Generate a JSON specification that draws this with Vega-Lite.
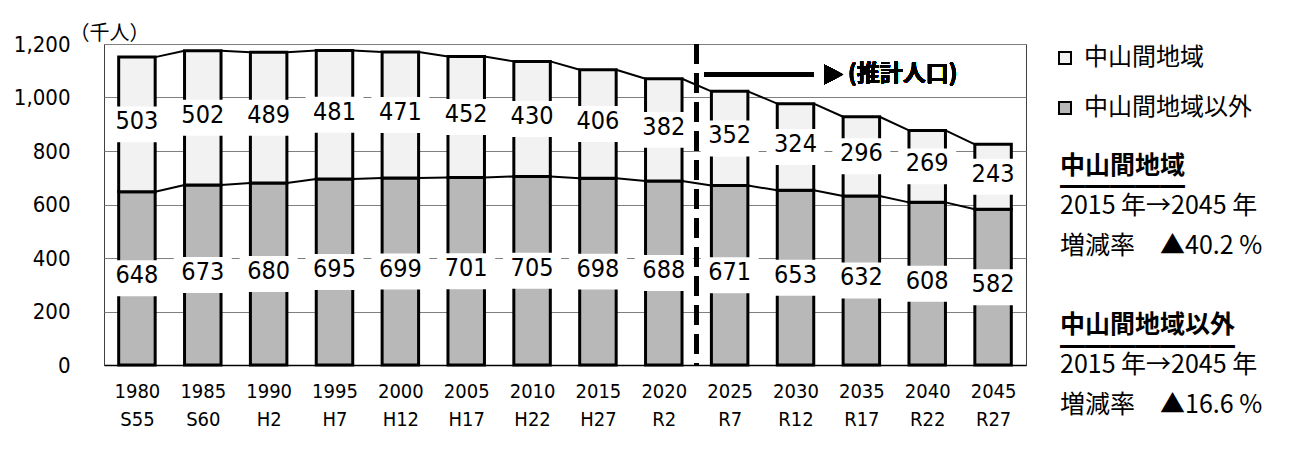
{
  "$schema": "https://vega.github.io/schema/vega-lite/v6.json",
  "autosize": {"type": "pad"},
  "padding": {"left": 12, "top": 22, "right": 5, "bottom": 5},
  "background": "white",
  "spacing": 32,
  "config": {
    "view": {"stroke": null},
    "font": "DejaVu Sans Condensed",
    "text": {"font": "DejaVu Sans Condensed"}
  },
  "datasets": {
    "pop": [
      {"period": "1980 S55", "area": "中山間地域以外", "value": 648},
      {"period": "1980 S55", "area": "中山間地域", "value": 503},
      {"period": "1985 S60", "area": "中山間地域以外", "value": 673},
      {"period": "1985 S60", "area": "中山間地域", "value": 502},
      {"period": "1990 H2", "area": "中山間地域以外", "value": 680},
      {"period": "1990 H2", "area": "中山間地域", "value": 489},
      {"period": "1995 H7", "area": "中山間地域以外", "value": 695},
      {"period": "1995 H7", "area": "中山間地域", "value": 481},
      {"period": "2000 H12", "area": "中山間地域以外", "value": 699},
      {"period": "2000 H12", "area": "中山間地域", "value": 471},
      {"period": "2005 H17", "area": "中山間地域以外", "value": 701},
      {"period": "2005 H17", "area": "中山間地域", "value": 452},
      {"period": "2010 H22", "area": "中山間地域以外", "value": 705},
      {"period": "2010 H22", "area": "中山間地域", "value": 430},
      {"period": "2015 H27", "area": "中山間地域以外", "value": 698},
      {"period": "2015 H27", "area": "中山間地域", "value": 406},
      {"period": "2020 R2", "area": "中山間地域以外", "value": 688},
      {"period": "2020 R2", "area": "中山間地域", "value": 382},
      {"period": "2025 R7", "area": "中山間地域以外", "value": 671},
      {"period": "2025 R7", "area": "中山間地域", "value": 352},
      {"period": "2030 R12", "area": "中山間地域以外", "value": 653},
      {"period": "2030 R12", "area": "中山間地域", "value": 324},
      {"period": "2035 R17", "area": "中山間地域以外", "value": 632},
      {"period": "2035 R17", "area": "中山間地域", "value": 296},
      {"period": "2040 R22", "area": "中山間地域以外", "value": 608},
      {"period": "2040 R22", "area": "中山間地域", "value": 269},
      {"period": "2045 R27", "area": "中山間地域以外", "value": 582},
      {"period": "2045 R27", "area": "中山間地域", "value": 243}
    ],
    "heads": [
      {"r": 0, "t": "中山間地域"},
      {"r": 8, "t": "中山間地域以外"}
    ],
    "underlines": [
      {"r": 1.12, "t": "━━━━━"},
      {"r": 9.12, "t": "━━━━━━━"}
    ],
    "body": [
      {"r": 2, "t": "2015 年→2045 年"},
      {"r": 4, "t": "増減率　▲40.2 %"},
      {"r": 10, "t": "2015 年→2045 年"},
      {"r": 12, "t": "増減率　▲16.6 %"}
    ]
  },
  "hconcat": [
    {
      "width": 922,
      "height": 321,
      "view": {"stroke": "#404040", "strokeWidth": 1},
      "data": {"name": "pop"},
      "transform": [
        {"stack": "value", "groupby": ["period"], "sort": [{"field": "area", "order": "descending"}], "as": ["v0", "v1"]},
        {"calculate": "(datum.v0 + datum.v1) / 2", "as": "mid"}
      ],
      "layer": [
        {
          "mark": {"type": "bar", "stroke": "#000", "strokeWidth": 3},
          "encoding": {
            "x": {
              "field": "period", "type": "nominal", "sort": null,
              "scale": {"paddingInner": 0.446, "paddingOuter": 0.223},
              "axis": {
                "title": null, "labelExpr": "split(datum.label, ' ')", "labelAngle": 0,
                "labelFont": "DejaVu Sans Condensed", "labelFontSize": 20, "labelLineHeight": 28, "labelColor": "#000",
                "labelPadding": 22, "domainColor": "#000", "domainWidth": 1.5, "zindex": 1,
                "ticks": true, "tickBand": "extent", "tickSize": -6, "tickColor": "#000", "tickWidth": 1, "grid": false
              }
            },
            "y": {
              "field": "v0", "type": "quantitative",
              "scale": {"domain": [0, 1200], "nice": false},
              "axis": {
                "title": "（千人）", "titleAngle": 0, "titleX": -35, "titleY": -11, "titleAlign": "left",
                "titleBaseline": "middle", "titleFont": "Noto Sans CJK JP", "titleFontSize": 20,
                "titleFontWeight": "normal", "titleColor": "#000",
                "values": [0, 200, 400, 600, 800, 1000, 1200], "format": ",d",
                "labelFont": "DejaVu Sans Condensed", "labelFontSize": 22, "labelColor": "#000", "labelPadding": 34,
                "ticks": false, "domain": false, "grid": true, "gridColor": "#7f7f7f", "gridWidth": 1
              }
            },
            "y2": {"field": "v1"},
            "color": {
              "field": "area", "type": "nominal",
              "scale": {"domain": ["中山間地域", "中山間地域以外"], "range": ["#f2f2f2", "#b8b8b8"]},
              "legend": {
                "title": null, "orient": "none", "legendX": 949, "legendY": 2,
                "symbolType": "square", "symbolSize": 144, "symbolStrokeColor": "#000", "symbolStrokeWidth": 2,
                "labelFont": "Noto Sans CJK JP", "labelFontSize": 24, "labelColor": "#000",
                "labelOffset": 7, "rowPadding": 26, "labelLimit": 400
              }
            }
          }
        },
        {
          "transform": [
            {"window": [{"op": "lead", "field": "v1", "as": "nextTop"}, {"op": "lead", "field": "period", "as": "nextPeriod"}],
             "groupby": ["area"], "sort": [{"field": "period", "order": "ascending"}]},
            {"filter": "datum.nextPeriod != null"}
          ],
          "mark": {"type": "rule", "stroke": "#000", "strokeWidth": 2},
          "encoding": {
            "x": {"field": "period", "type": "nominal", "bandPosition": 1},
            "x2": {"field": "nextPeriod", "bandPosition": 0},
            "y": {"field": "v1", "type": "quantitative"},
            "y2": {"field": "nextTop"}
          }
        },
        {
          "mark": {"type": "rule", "stroke": "#000", "strokeWidth": 4, "strokeDash": [20, 9]},
          "encoding": {
            "x": {"datum": "2025 R7", "type": "nominal", "bandPosition": -0.4}
          }
        },
        {
          "mark": {"type": "point", "shape": "M-1,-0.62H1V0.62H-1Z", "size": 3364, "filled": true, "fill": "white", "strokeWidth": 0, "opacity": 1},
          "encoding": {
            "x": {"field": "period", "type": "nominal"},
            "y": {"field": "mid", "type": "quantitative"}
          }
        },
        {
          "mark": {"type": "text", "font": "DejaVu Sans Condensed", "fontSize": 25, "color": "#000", "baseline": "middle", "dy": -3},
          "encoding": {
            "x": {"field": "period", "type": "nominal"},
            "y": {"field": "mid", "type": "quantitative"},
            "text": {"field": "value", "type": "quantitative"}
          }
        },
        {
          "mark": {"type": "rule", "stroke": "#000", "strokeWidth": 5},
          "encoding": {
            "x": {"datum": "2025 R7", "type": "nominal", "bandPosition": -0.19},
            "x2": {"datum": "2030 R12", "bandPosition": 1},
            "y": {"datum": 1086, "type": "quantitative"}
          }
        },
        {
          "mark": {"type": "point", "shape": "M0,0L-1.9,-1L-1.9,1Z", "size": 400, "filled": true, "fill": "#000", "strokeWidth": 0, "opacity": 1},
          "encoding": {
            "x": {"datum": "2035 R17", "type": "nominal", "bandPosition": 0},
            "y": {"datum": 1086, "type": "quantitative"}
          }
        },
        {
          "mark": {"type": "text", "text": "(推計人口)", "font": "Noto Sans CJK JP", "fontSize": 23, "fontWeight": "bold", "color": "#000", "align": "left", "baseline": "middle", "dx": 5},
          "encoding": {
            "x": {"datum": "2035 R17", "type": "nominal", "bandPosition": 0},
            "y": {"datum": 1086, "type": "quantitative"}
          }
        }
      ]
    },
    {
      "width": 2,
      "height": 321,
      "view": {"stroke": null},
      "layer": [
        {
          "data": {"name": "heads"},
          "mark": {"type": "text", "align": "left", "baseline": "middle", "font": "Noto Sans CJK JP", "fontSize": 25, "fontWeight": "bold", "color": "#000"},
          "encoding": {
            "y": {"field": "r", "type": "quantitative", "scale": {"domain": [-6.125, 9.99], "reverse": true, "nice": false, "zero": false}, "axis": null},
            "text": {"field": "t"}
          }
        },
        {
          "data": {"name": "underlines"},
          "mark": {"type": "text", "align": "left", "baseline": "middle", "font": "Noto Sans CJK JP", "fontSize": 25, "color": "#000"},
          "encoding": {
            "y": {"field": "r", "type": "quantitative"},
            "text": {"field": "t"}
          }
        },
        {
          "data": {"name": "body"},
          "mark": {"type": "text", "align": "left", "baseline": "middle", "font": "Noto Sans CJK JP", "fontSize": 25, "color": "#000"},
          "encoding": {
            "y": {"field": "r", "type": "quantitative"},
            "text": {"field": "t"}
          }
        }
      ]
    }
  ]
}
